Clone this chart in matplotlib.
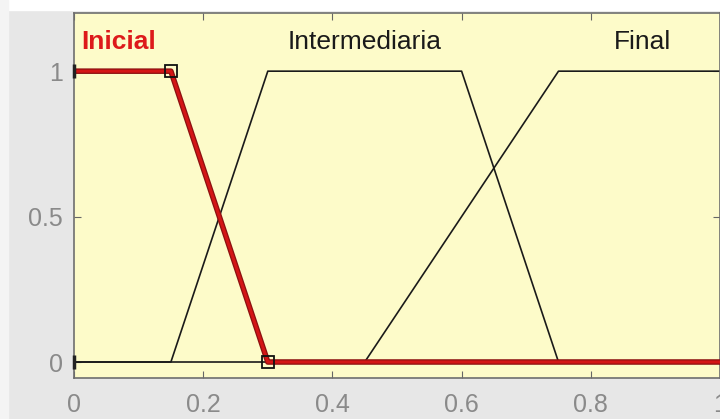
import numpy as np
import matplotlib.pyplot as plt

# membership functions (trapezoids) on [0, 1]
names = ['Inicial', 'Intermediaria', 'Final']
params = [[0, 0, 0.15, 0.3],
          [0.15, 0.3, 0.6, 0.75],
          [0.45, 0.75, 1.0, 1.0]]
label_x = [0.011, 0.330, 0.836]
label_y = 1.1

xticks = [0, 0.2, 0.4, 0.6, 0.8, 1]
yticks = [0, 0.5, 1]


def trap_pts(p):
    a, b, c, d = p
    xs = [0, a, b, c, d, 1]
    ys = [0, 0, 1, 1, 0, 0]
    if a == b:
        xs, ys = xs[1:], [1] + ys[2:]
    if c == d:
        xs, ys = xs[:-1], ys[:-2] + [1]
    return xs, ys


plt.rcParams['font.family'] = ['Liberation Sans', 'DejaVu Sans']

fig = plt.figure(figsize=(7.2, 4.19), dpi=100)
fig.patch.set_facecolor('#e7e7e7')
ax = fig.add_axes([74/720, 41/419, 646/720, 365/419])
ax.set_facecolor('#fdfbc9')

# black curves for every set
for p in params:
    xs, ys = trap_pts(p)
    ax.plot(xs, ys, color='#1a1a1a', lw=1.2, zorder=2)

# selected set in red
xs, ys = trap_pts(params[0])
ax.plot(xs, ys, color='#8c1010', lw=4.0, zorder=3, solid_capstyle='butt')
ax.plot(xs, ys, color='#d41515', lw=2.2, zorder=4, solid_capstyle='butt')
ax.plot([params[0][2], params[0][3]], [1, 0], ls='none', marker='s', ms=8,
        mfc='none', mec='#111111', mew=1.3, zorder=5)
ax.plot([0, 0], [0, 1], ls='none', marker='|', ms=10, mew=2.5,
        color='#222222', zorder=5, clip_on=False)

for i, (name, lx) in enumerate(zip(names, label_x)):
    if i == 0:
        ax.text(lx, label_y, name, color='#dd1a1a', fontsize=19,
                fontweight='bold', va='center', ha='left')
    else:
        ax.text(lx, label_y, name, color='#1a1a1a', fontsize=19,
                va='center', ha='left')

ax.set_xlim(0, 1)
ax.set_ylim(-0.055, 1.2)
ax.set_xticks(xticks)
ax.set_xticklabels(['0', '0.2', '0.4', '0.6', '0.8', '1'])
ax.set_yticks(yticks)
ax.set_yticklabels(['0', '0.5', '1'])
ax.tick_params(direction='in', top=True, right=True, length=5,
               color='#666666', labelcolor='#8a8a8a', labelsize=18)
ax.tick_params(axis='x', pad=11)
ax.tick_params(axis='y', pad=8)
for s in ax.spines.values():
    s.set_color('#6e6e6e')
    s.set_linewidth(1.2)

# white bands along the top and left of the window
fig.patches.append(plt.Rectangle((0, 1 - 10/419), 1, 10/419,
                                 transform=fig.transFigure, color='white',
                                 zorder=0))
fig.patches.append(plt.Rectangle((0, 0), 8/720, 1,
                                 transform=fig.transFigure, color='#f4f4f4',
                                 zorder=0))

fig.savefig('out.png', dpi=100, facecolor=fig.get_facecolor())
